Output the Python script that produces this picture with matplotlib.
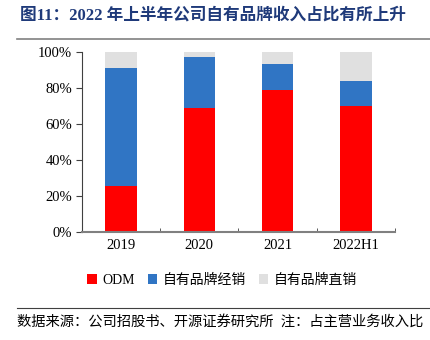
import numpy as np
import matplotlib
matplotlib.use("Agg")
from matplotlib import pyplot as plt
from matplotlib.lines import Line2D

plt.rcParams['font.family'] = ['Liberation Serif', 'Noto Sans CJK SC']

categories = ['2019', '2020', '2021', '2022H1']
odm = [25.7, 69.1, 78.9, 70.2]
brand_dealer = [65.4, 27.9, 14.2, 13.5]
brand_direct = [8.9, 3.0, 6.9, 16.3]
series_names = ['ODM', '自有品牌经销', '自有品牌直销']
colors = ['#FF0000', '#3075C4', '#E0E0E0']
yticks = [0, 20, 40, 60, 80, 100]

fig = plt.figure(figsize=(4.3, 3.4), dpi=100)
ax = fig.add_axes([0.1907, 0.3176, 0.7279, 0.5294])

x = np.arange(len(categories))
bottom = np.zeros(len(categories))
handles = []
for vals, name, c in zip([odm, brand_dealer, brand_direct], series_names, colors):
    b = ax.bar(x, vals, width=0.4, bottom=bottom, color=c, label=name)
    handles.append(b)
    bottom += np.array(vals)

ax.set_xlim(-0.5, 3.5)
ax.set_ylim(0, 100)
ax.set_yticks(yticks)
ax.set_yticklabels([f'{v}%' for v in yticks], fontsize=10.5)
ax.set_xticks(x)
ax.set_xticklabels(categories, fontsize=10.5)
ax.tick_params(axis='x', length=0, pad=5)
ax.set_xticks(np.arange(0.5, 3.6, 1), minor=True)
ax.tick_params(axis='x', which='minor', direction='in', length=3, color='#404040')
ax.tick_params(axis='y', direction='out', length=4, color='#404040', pad=3)
for s in ['top', 'right']:
    ax.spines[s].set_visible(False)
ax.spines['left'].set_color('#404040')
ax.spines['left'].set_linewidth(0.8)
ax.spines['bottom'].set_color('#808080')
ax.spines['bottom'].set_linewidth(1.5)

leg = fig.legend(handles=handles, labels=series_names, loc='center',
                 bbox_to_anchor=(0.517, 0.175), ncol=3, frameon=False,
                 fontsize=10, handlelength=0.7, handleheight=0.7,
                 handletextpad=0.4, columnspacing=0.9)

fig.text(0.047, 0.955, '图11：2022 年上半年公司自有品牌收入占比有所上升',
         fontsize=12, fontweight='bold', color='#1F3A7A', va='center')
fig.add_artist(Line2D([0.04, 1.0], [0.885, 0.885], color='#808080', lw=1.2))
fig.add_artist(Line2D([0.04, 1.0], [0.094, 0.094], color='#404040', lw=0.8))
fig.text(0.04, 0.053, '数据来源：公司招股书、开源证券研究所  注：占主营业务收入比',
         fontsize=10.3, va='center')

fig.savefig('out.png', dpi=100)
